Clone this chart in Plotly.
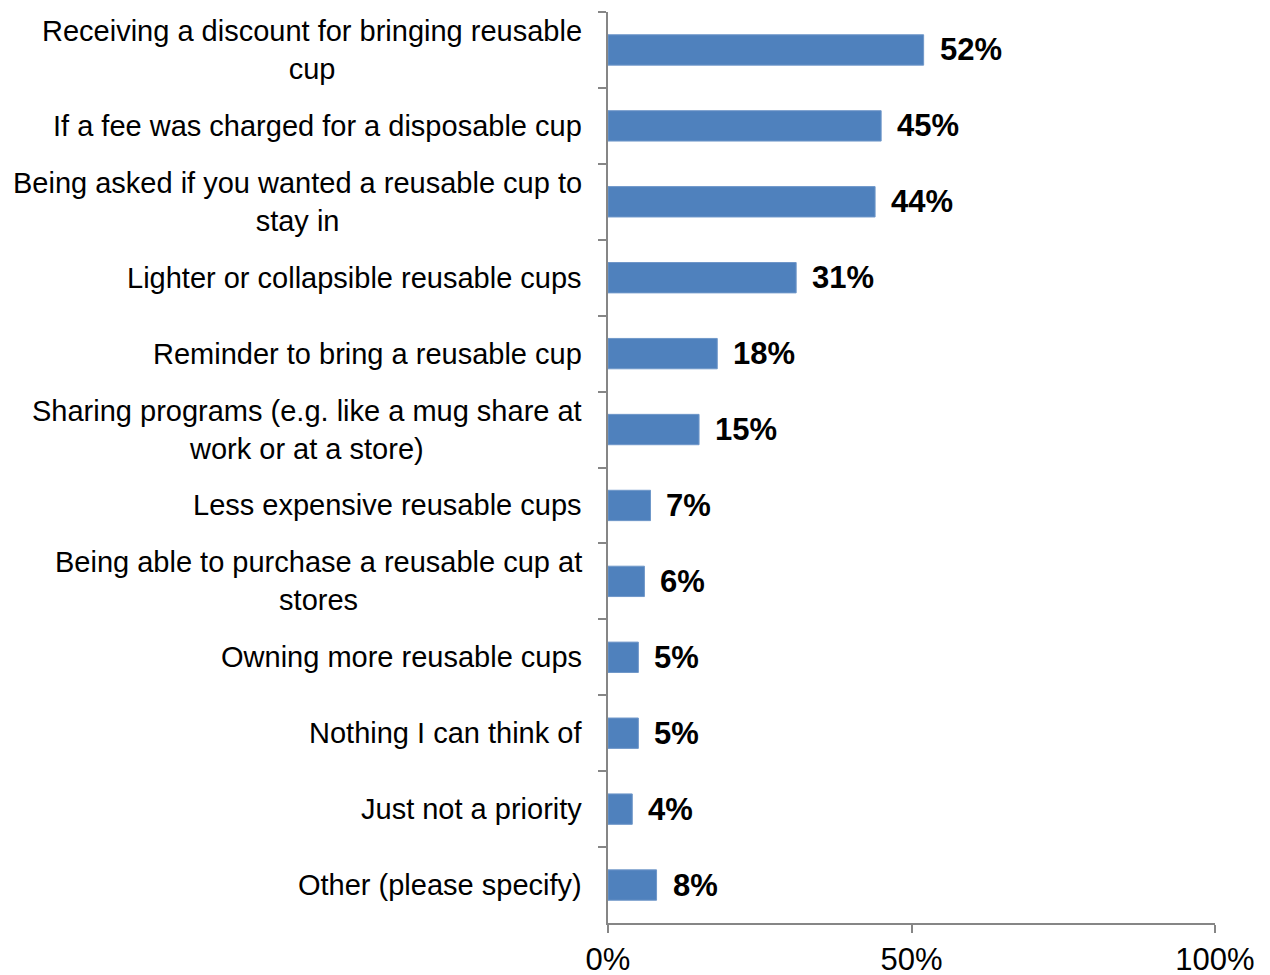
import plotly.graph_objects as go

categories = [
    "Receiving a discount for bringing reusable<br>cup",
    "If a fee was charged for a disposable cup",
    "Being asked if you wanted a reusable cup to<br>stay in",
    "Lighter or collapsible reusable cups",
    "Reminder to bring a reusable cup",
    "Sharing programs (e.g. like a mug share at<br>work or at a store)",
    "Less expensive reusable cups",
    "Being able to purchase a reusable cup at<br>stores",
    "Owning more reusable cups",
    "Nothing I can think of",
    "Just not a priority",
    "Other (please specify)",
]
values = [52, 45, 44, 31, 18, 15, 7, 6, 5, 5, 4, 8]
x_ticks = [0, 50, 100]

BAR = "#4F81BD"
AXIS = "#868686"
FONT = "Liberation Sans, Arial, sans-serif"

fig = go.Figure(
    go.Bar(
        x=values,
        y=categories,
        orientation="h",
        marker=dict(color=BAR, line=dict(color="#6f97c9", width=1)),
        hoverinfo="skip",
    )
)

# category labels, centred line by line and right-anchored next to the axis
for cat in categories:
    fig.add_annotation(
        x=0, y=cat, xref="x", yref="y",
        text=cat, showarrow=False,
        xanchor="right", yanchor="middle", align="center",
        xshift=-24,
        font=dict(family=FONT, size=29, color="#000000"),
    )

# value labels at the end of each bar
for cat, v in zip(categories, values):
    fig.add_annotation(
        x=v, y=cat, xref="x", yref="y",
        text=f"<b>{v}%</b>", showarrow=False,
        xanchor="left", yanchor="middle",
        xshift=14,
        font=dict(family=FONT, size=31, color="#000000"),
    )

fig.update_layout(
    width=1270, height=975,
    margin=dict(l=608, r=55, t=12, b=52),
    paper_bgcolor="white", plot_bgcolor="white",
    bargap=0.6,
    showlegend=False,
    font=dict(family=FONT, size=29, color="#000000"),
)

fig.update_xaxes(
    range=[0, 100],
    tickvals=x_ticks,
    ticktext=[f"{t}%" for t in x_ticks],
    automargin=False,
    showgrid=False, zeroline=False,
    showline=True, linecolor=AXIS, linewidth=2,
    ticks="outside", ticklen=8, tickcolor=AXIS, tickwidth=2,
    tickfont=dict(family=FONT, size=31, color="#000000"),
)

fig.update_yaxes(
    categoryorder="array", categoryarray=categories,
    autorange="reversed",
    automargin=False,
    showticklabels=False,
    showgrid=False, zeroline=False,
    showline=True, linecolor=AXIS, linewidth=2,
    ticks="outside", tickson="boundaries", ticklen=8,
    tickcolor=AXIS, tickwidth=2,
)

fig.write_html("out.html")
